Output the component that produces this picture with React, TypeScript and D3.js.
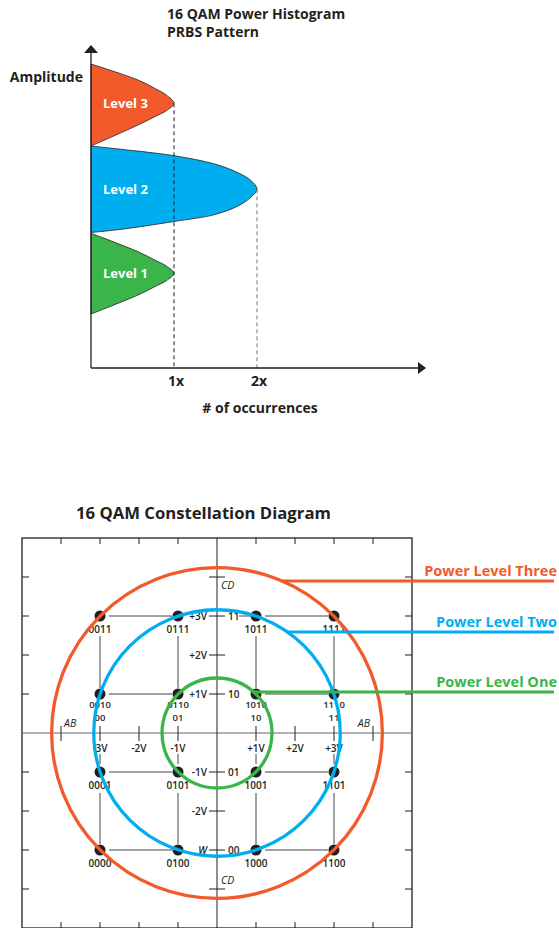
import React from 'react';
import * as d3 from 'd3';

// ---- histogram data (x = # of occurrences, y = amplitude units) ----
const levelNames = ['Level 3', 'Level 2', 'Level 1'];
const levelPeaks = [26.47, 17.87, 9.47];
// boundary traced top -> peak -> bottom, closed back along the amplitude axis
const levelProfiles: [number, number][][] = [
  [[0, 30.4], [0.566, 28.8], [0.767, 27.97], [0.907, 27.3], [1, 26.47], [0.907, 25.73], [0.767, 25.13], [0.566, 24.3], [0, 22.2]],
  [[0, 22.2], [0.365, 21.87], [1, 21.23], [1.49, 20.4], [1.77, 19.53], [1.93, 18.73], [2, 17.87], [1.93, 17.1], [1.77, 16.2], [1.49, 15.34], [1, 14.65], [0.365, 13.87], [0, 13.55]],
  [[0, 13.47], [0.566, 11.63], [0.767, 10.8], [0.907, 10.2], [1, 9.47], [0.907, 8.73], [0.767, 8.13], [0.566, 7.3], [0, 5.4]],
];
const occTicks = [1, 2];
const occTickLabels = ['1x', '2x'];

// ---- constellation data (volts) ----
const iLevels = [-3, -1, 1, 3];
const qLevels = [3, 1, -1, -3];
const symbolCodes = [
  ['0011', '0111', '1011', '1111'],
  ['0010', '0110', '1010', '1110'],
  ['0001', '0101', '1001', '1101'],
  ['0000', '0100', '1000', '1100'],
];
const iBits = ['00', '01', '10', '11'];
const qBits = ['11', '10', '01', '00'];
const iTicks = [-3, -2, -1, 1, 2, 3];
const iTickLabels = ['-3V', '-2V', '-1V', '+1V', '+2V', '+3V'];
const qTicks = [3, 2, 1, -1, -2, -3];
const qTickLabels = ['+3V', '+2V', '+1V', '-1V', '-2V', 'W'];
const frameTicks = [-4, -3, -2, -1, 1, 2, 3, 4];
const powerNames = ['Power Level Three', 'Power Level Two', 'Power Level One'];
const powerRadii = [4.24, 3.16, 1.41];
const powerLeaderQ = [3.9, 2.59, 1.05];

const colors = ['#F15A2B', '#00AEEF', '#3AB54A'];
const ink = '#231f20';
const font = '"Open Sans", sans-serif';

export default function App() {
  const hx = d3.scaleLinear().domain([0, 4]).range([91, 423]);
  const hy = d3.scaleLinear().domain([0, 32]).range([368, 48]);
  const shape = d3
    .line<[number, number]>()
    .x((d) => hx(d[0]))
    .y((d) => hy(d[1]))
    .curve(d3.curveCatmullRom.alpha(0.5));

  const cx = d3.scaleLinear().domain([-5, 5]).range([22, 412]);
  const cy = d3.scaleLinear().domain([-5, 5]).range([928, 538]);
  const unit = cx(1) - cx(0);
  const x0 = cx(0);
  const y0 = cy(0);

  return (
    <svg
      width={559}
      height={928}
      style={{ position: 'absolute', left: 0, top: 0, fontFamily: font }}
    >
      <rect width={559} height={928} fill="#fff" />

      {/* ===== Power histogram ===== */}
      <text x={167} y={19} fontSize={14} fontWeight={700} fill={ink}>16 QAM Power Histogram</text>
      <text x={167} y={37} fontSize={14} fontWeight={700} fill={ink}>PRBS Pattern</text>
      <text x={83} y={82} fontSize={14} fontWeight={700} fill={ink} textAnchor="end">Amplitude</text>

      {levelProfiles.map((p, i) => (
        <path key={i} d={shape(p) + 'Z'} fill={colors[i]} stroke={ink} strokeWidth={0.8} />
      ))}
      {levelNames.map((n, i) => (
        <text key={n} x={103} y={hy(levelPeaks[i])} dy="0.35em" fontSize={13} fontWeight={700} fill="#fff">
          {n}
        </text>
      ))}

      {occTicks.map((t, i) => (
        <line
          key={t}
          x1={hx(t)}
          x2={hx(t)}
          y1={hy(i === 0 ? levelPeaks[0] : levelPeaks[1])}
          y2={hy(0)}
          stroke={i === 0 ? ink : '#777'}
          strokeWidth={1}
          strokeDasharray="4,3"
        />
      ))}

      <line x1={hx(0)} x2={hx(0)} y1={52} y2={hy(0)} stroke={ink} strokeWidth={1.3} />
      <line x1={hx(0)} x2={418} y1={hy(0)} y2={hy(0)} stroke={ink} strokeWidth={1.3} />
      <path d={`M${hx(0)},45L${hx(0) - 7},53L${hx(0) + 7},53Z`} fill={ink} />
      <path d={`M426,${hy(0)}L418,${hy(0) - 6}L418,${hy(0) + 6}Z`} fill={ink} />

      {occTicks.map((t, i) => (
        <text key={t} x={hx(t) + 2} y={386} fontSize={14} fontWeight={700} fill={ink} textAnchor="middle">
          {occTickLabels[i]}
        </text>
      ))}
      <text x={260} y={413} fontSize={14} fontWeight={700} fill={ink} textAnchor="middle"># of occurrences</text>

      {/* ===== Constellation ===== */}
      <text x={76} y={519} fontSize={16.7} fontWeight={700} fill={ink}>16 QAM Constellation Diagram</text>

      <rect
        x={cx(-5)}
        y={cy(5)}
        width={cx(5) - cx(-5)}
        height={cy(-5) - cy(5)}
        fill="none"
        stroke={ink}
        strokeWidth={1.3}
      />
      {frameTicks.map((t) => (
        <g key={t} stroke={ink} strokeWidth={1}>
          <line x1={cx(t)} x2={cx(t)} y1={cy(5)} y2={cy(5) + 6} />
          <line x1={cx(t)} x2={cx(t)} y1={cy(-5)} y2={cy(-5) - 6} />
          <line x1={cx(-5)} x2={cx(-5) + 7} y1={cy(t)} y2={cy(t)} />
          <line x1={cx(5)} x2={cx(5) - 7} y1={cy(t)} y2={cy(t)} />
        </g>
      ))}

      {/* axes */}
      <line x1={cx(-5)} x2={cx(5)} y1={y0} y2={y0} stroke="#666" strokeWidth={1.2} />
      <line x1={x0} x2={x0} y1={cy(5)} y2={cy(-5)} stroke={ink} strokeWidth={1} />

      {/* grid connections between symbols */}
      <g stroke="#444" strokeWidth={1}>
        {qLevels.map((q) => (
          <g key={'h' + q}>
            <line x1={cx(-3) + 9} x2={cx(-1) - 6} y1={cy(q)} y2={cy(q)} />
            <line x1={cx(1) + 9} x2={cx(3) - 6} y1={cy(q)} y2={cy(q)} />
          </g>
        ))}
        {iLevels.map((v) => (
          <g key={'v' + v}>
            <line x1={cx(v)} x2={cx(v)} y1={cy(3) + 20} y2={cy(1) - 6} />
            <line x1={cx(v)} x2={cx(v)} y1={cy(-1) + 21} y2={cy(-3) - 6} />
            <line x1={cx(v)} x2={cx(v)} y1={y0 + 21} y2={y0 + 31} />
          </g>
        ))}
        <line x1={x0 + 22} x2={cx(1) - 6} y1={cy(3)} y2={cy(3)} />
      </g>

      {/* I axis ticks */}
      {iTicks.map((v, i) => (
        <g key={'it' + v}>
          <line x1={cx(v)} x2={cx(v)} y1={y0 - 7} y2={y0 + 8} stroke={ink} strokeWidth={1} />
          <text x={cx(v)} y={y0 + 19} fontSize={10} fontWeight={600} fill={ink} textAnchor="middle">
            {iTickLabels[i]}
          </text>
        </g>
      ))}
      {/* Q axis ticks */}
      {qTicks.map((v, i) => (
        <g key={'qt' + v}>
          <line x1={x0 - 8} x2={x0 + 8} y1={cy(v)} y2={cy(v)} stroke={ink} strokeWidth={1} />
          <text
            x={x0 - 10}
            y={cy(v)}
            dy="0.35em"
            fontSize={10}
            fontWeight={600}
            fontStyle={qTickLabels[i] === 'W' ? 'italic' : 'normal'}
            fill={ink}
            textAnchor="end"
          >
            {qTickLabels[i]}
          </text>
        </g>
      ))}
      {qLevels.map((q, i) => (
        <text key={'qb' + q} x={x0 + 11} y={cy(q)} dy="0.35em" fontSize={10} fontWeight={600} fill={ink}>
          {qBits[i]}
        </text>
      ))}

      {/* AB / CD markers */}
      {[-4, 4].map((v) => (
        <g key={'ab' + v}>
          <line x1={cx(v)} x2={cx(v)} y1={y0 - 7} y2={y0 + 8} stroke={ink} strokeWidth={1} />
          <text
            x={v < 0 ? cx(v) + 3 : cx(v) - 3}
            y={y0 - 6}
            fontSize={10.5}
            fontStyle="italic"
            fill={ink}
            textAnchor={v < 0 ? 'start' : 'end'}
          >
            AB
          </text>
          <line x1={x0 - 8} x2={x0 + 8} y1={cy(v)} y2={cy(v)} stroke={ink} strokeWidth={1} />
          <text x={x0 + 4} y={v > 0 ? cy(v) + 12 : cy(v) - 5} fontSize={10.5} fontStyle="italic" fill={ink}>
            CD
          </text>
        </g>
      ))}

      {/* symbols */}
      {qLevels.map((q, r) =>
        iLevels.map((v, c) => (
          <g key={symbolCodes[r][c]}>
            <circle cx={cx(v)} cy={cy(q)} r={5.5} fill={ink} />
            <text
              x={cx(v)}
              y={cy(q) + (q === 1 ? 14 : 16.5)}
              fontSize={q === 1 ? 9.5 : 10}
              fontWeight={600}
              fill={ink}
              textAnchor="middle"
            >
              {symbolCodes[r][c]}
            </text>
            {q === 1 && (
              <text x={cx(v)} y={cy(q) + 27} fontSize={9.5} fontWeight={600} fill={ink} textAnchor="middle">
                {iBits[c]}
              </text>
            )}
          </g>
        ))
      )}

      {/* power level rings and leaders */}
      {powerRadii.map((r, i) => {
        const rp = r * unit;
        const ly = cy(powerLeaderQ[i]);
        const dy = ly - y0;
        const lx = x0 + Math.sqrt(Math.max(0, rp * rp - dy * dy));
        return (
          <g key={powerNames[i]}>
            <circle cx={x0} cy={y0} r={rp} fill="none" stroke={colors[i]} strokeWidth={3.3} />
            <line x1={lx} x2={554} y1={ly} y2={ly} stroke={colors[i]} strokeWidth={3} />
            <text x={557} y={ly - 5} fontSize={14.5} fontWeight={700} fill={colors[i]} textAnchor="end">
              {powerNames[i]}
            </text>
          </g>
        );
      })}
    </svg>
  );
}
